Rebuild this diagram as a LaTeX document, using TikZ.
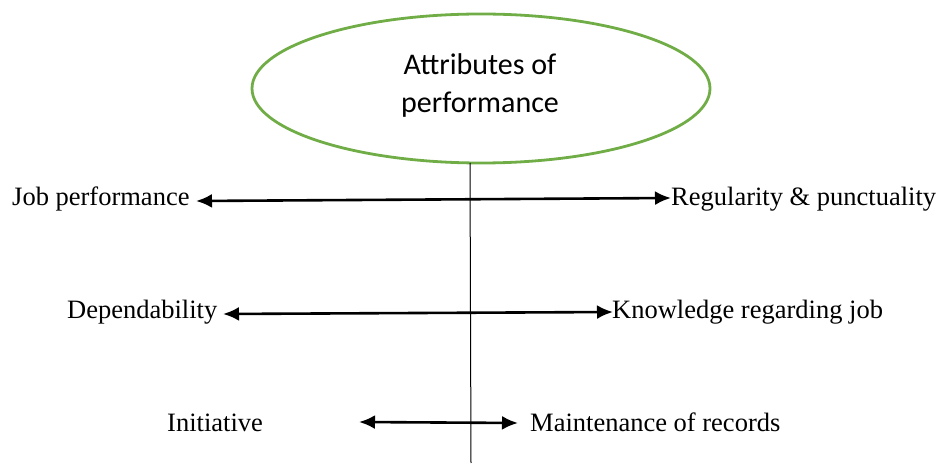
\documentclass[tikz,border=0pt]{standalone}
\usepackage{fontspec}
\setmainfont{Liberation Serif}
\newfontfamily\calib{Carlito}
\usetikzlibrary{shapes.geometric,arrows.meta}
\definecolor{ellgreen}{RGB}{112,173,71}
\tikzset{
  lbl/.style={inner sep=0pt, font=\fontsize{26.5}{31}\selectfont, anchor=base west},
  twoway/.style={line width=2.6pt, {Latex[length=16pt,width=14pt]}-{Latex[length=16pt,width=14pt]}},
  attrtext/.style={align=center, font=\calib\fontsize{30}{38}\selectfont, inner sep=0pt},
  ellline/.style={draw=ellgreen, line width=2.8pt},
}
\begin{document}
\begin{tikzpicture}[x=1pt,y=-1pt]
\useasboundingbox (0,0) rectangle (938,465);
\draw[ellline] (481,88.5) ellipse [x radius=229, y radius=74.5];
\node[attrtext] (attr) at (480,86) {Attributes of\\performance};
\coordinate (vtop) at (470,163);
\coordinate (vbot) at (471,463);
\draw[line width=1pt] (vtop) -- (vbot);

\node[lbl] (jp) at (12,206) {Job performance};
\node[lbl] (rp) at (671,206) {Regularity \& punctuality};
\node[lbl] (dep) at (67,319) {Dependability};
\node[lbl] (kj) at (612,319) {Knowledge regarding job};
\node[lbl] (ini) at (167,431) {Initiative};
\node[lbl] (mr) at (530,431) {Maintenance of records};

\coordinate (a1l) at (196,201);
\coordinate (a1r) at (671,198);
\coordinate (a2l) at (223,314);
\coordinate (a2r) at (613,312);
\coordinate (a3l) at (359,422);
\coordinate (a3r) at (518,423);
\draw[twoway] (a1l) -- (a1r);
\draw[twoway] (a2l) -- (a2r);
\draw[twoway] (a3l) -- (a3r);
\end{tikzpicture}
\end{document}
